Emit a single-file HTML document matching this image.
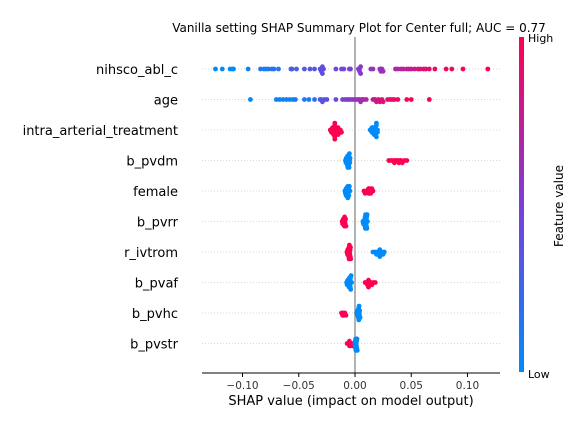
<!DOCTYPE html>
<html><head><meta charset="utf-8"><style>
body{margin:0;background:#fff;}
svg{display:block;font-family:"DejaVu Sans","Liberation Sans",sans-serif;}
</style></head><body>
<svg id="chart" width="587" height="429">
<defs><linearGradient id="cb" x1="0" y1="1" x2="0" y2="0"><stop offset="0" stop-color="#008bfb"/><stop offset="0.5" stop-color="#7c3ed8"/><stop offset="1" stop-color="#ff0051"/></linearGradient></defs>
<text x="359" y="32" font-size="12" text-anchor="middle">Vanilla setting SHAP Summary Plot for Center full; AUC = 0.77</text>
<g id="grid"></g>
<line x1="355" y1="37" x2="355" y2="373" stroke="#999" stroke-width="1.5"/>
<g id="dots"></g>
<g id="labels"></g>
<line x1="202" y1="373" x2="500" y2="373" stroke="#000" stroke-width="1"/>
<g id="ticks"></g>
<text x="351" y="405" font-size="13" text-anchor="middle">SHAP value (impact on model output)</text>
<rect x="519" y="37" width="5" height="335" fill="url(#cb)"/>
<text x="528" y="42" font-size="11">High</text>
<text x="528" y="378" font-size="11">Low</text>
<text x="563" y="206" font-size="12" text-anchor="middle" transform="rotate(-90 563 206)">Feature value</text>
</svg>
<script>
const features = ["nihsco_abl_c","age","intra_arterial_treatment","b_pvdm","female","b_pvrr","r_ivtrom","b_pvaf","b_pvhc","b_pvstr"];
const tickValues = [-0.10,-0.05,0.00,0.05,0.10];
const tickLabels = ["\u22120.10","\u22120.05","0.00","0.05","0.10"];
const nihShap = [-0.124,-0.118,-0.111,-0.109,-0.108,-0.095,-0.084,-0.081,-0.079,-0.077,-0.074,-0.072,-0.068,-0.057,-0.056,-0.052,-0.045,-0.040,-0.036,-0.031,-0.030,-0.030,-0.029,-0.029,-0.028,-0.017,-0.012,-0.010,-0.005,-0.004,0.003,0.004,0.004,0.005,0.005,0.014,0.016,0.022,0.023,0.023,0.024,0.025,0.036,0.038,0.041,0.043,0.046,0.048,0.050,0.053,0.056,0.058,0.061,0.063,0.066,0.071,0.081,0.086,0.096,0.118];
const nihFv = [0,0,0,0,0,0.05,0.1,0.1,0.1,0.1,0.15,0.15,0.15,0.3,0.3,0.3,0.35,0.35,0.35,0.4,0.4,0.4,0.4,0.4,0.4,0.45,0.45,0.45,0.5,0.5,0.55,0.55,0.55,0.55,0.55,0.6,0.6,0.62,0.62,0.62,0.62,0.62,0.7,0.7,0.72,0.72,0.75,0.75,0.78,0.8,0.82,0.85,0.88,0.88,0.9,0.92,0.95,0.95,1,1];
const ageShap = [-0.093,-0.070,-0.067,-0.064,-0.061,-0.058,-0.055,-0.053,-0.045,-0.041,-0.036,-0.031,-0.030,-0.029,-0.027,-0.025,-0.017,-0.011,-0.009,-0.007,-0.006,-0.004,-0.002,0.000,0.001,0.003,0.004,0.005,0.006,0.007,0.008,0.010,0.016,0.017,0.018,0.019,0.021,0.022,0.024,0.025,0.029,0.031,0.033,0.035,0.038,0.046,0.050,0.066];
const ageFv = [0,0.05,0.05,0.05,0.08,0.08,0.1,0.1,0.1,0.12,0.15,0.35,0.35,0.38,0.38,0.4,0.42,0.5,0.5,0.52,0.55,0.55,0.58,0.6,0.6,0.6,0.62,0.62,0.65,0.65,0.68,0.7,0.75,0.78,0.8,0.8,0.82,0.85,0.85,0.88,0.88,0.9,0.9,0.92,0.95,0.95,1,1];
const iatRedShap = [-0.022,-0.021,-0.021,-0.020,-0.020,-0.020,-0.019,-0.019,-0.019,-0.019,-0.018,-0.018,-0.018,-0.018,-0.017,-0.017,-0.017,-0.016,-0.016,-0.015,-0.015,-0.014,-0.013,-0.012];
const iatBlueShap = [0.0135,0.014,0.015,0.015,0.016,0.016,0.016,0.017,0.017,0.017,0.017,0.018,0.018,0.018,0.018,0.019,0.019,0.019,0.020,0.020];
const pvdmBlueShap = [-0.0085,-0.008,-0.0078,-0.0075,-0.0072,-0.007,-0.0068,-0.0066,-0.0064,-0.0062,-0.006,-0.0058,-0.0056,-0.0054,-0.0052,-0.005,-0.0048,-0.0046,-0.0044];
const pvdmRedShap = [0.030,0.032,0.034,0.035,0.036,0.037,0.038,0.039,0.040,0.041,0.042,0.044,0.046];
const femBlueShap = [-0.009,-0.0085,-0.008,-0.0078,-0.0075,-0.0072,-0.007,-0.0068,-0.0066,-0.0064,-0.0062,-0.006,-0.0058,-0.0055,-0.005,-0.0045];
const femRedShap = [0.008,0.009,0.010,0.011,0.012,0.012,0.013,0.013,0.013,0.014,0.014,0.015,0.016];
const rrRedShap = [-0.0115,-0.011,-0.0105,-0.010,-0.0098,-0.0096,-0.0094,-0.0092,-0.009,-0.0087,-0.0084,-0.008];
const rrBlueShap = [0.007,0.0075,0.008,0.0083,0.0086,0.0088,0.009,0.0092,0.0094,0.0096,0.0098,0.010,0.0102,0.0104,0.0106,0.0108,0.011];
const ivtRedShap = [-0.0072,-0.0068,-0.0065,-0.0062,-0.006,-0.0058,-0.0056,-0.0054,-0.0052,-0.005,-0.0048,-0.0046,-0.0044,-0.0042,-0.004,-0.0038];
const ivtBlueShap = [0.016,0.018,0.019,0.020,0.021,0.021,0.022,0.022,0.023,0.024,0.025,0.026];
const pvafBlueShap = [-0.0075,-0.007,-0.0065,-0.006,-0.0058,-0.0055,-0.0052,-0.005,-0.0048,-0.0046,-0.0044,-0.0042,-0.004,-0.0038,-0.0035,-0.003];
const pvafRedShap = [0.009,0.010,0.011,0.011,0.012,0.012,0.013,0.013,0.014,0.015,0.016,0.018];
const hcRedShap = [-0.012,-0.011,-0.011,-0.010,-0.010,-0.009,-0.008];
const hcBlueShap = [0.0015,0.002,0.0022,0.0024,0.0026,0.0028,0.003,0.0032,0.0034,0.0036,0.0038,0.004,0.0042,0.0045];
const strRedShap = [-0.007,-0.006,-0.005,-0.005,-0.004,-0.004,-0.003,-0.002];
const strBlueShap = [-0.0002,0.0,0.0002,0.0004,0.0006,0.0008,0.001,0.0012,0.0014,0.0016,0.0018,0.002];

const X0=355, XS=1125, ROW0=69, ROWH=30.5;
const xs = v => X0 + v*XS;
const ys = i => ROW0 + i*ROWH;
function col(f){
  const a=[0,139,251], m=[124,62,216], b=[255,0,81];
  let c;
  if(f<0.5){const t=f/0.5;c=a.map((v,i)=>v+(m[i]-v)*t);} else {const t=(f-0.5)/0.5;c=m.map((v,i)=>v+(b[i]-v)*t);}
  return `rgb(${c.map(Math.round).join(',')})`;
}
const rows = [
  [[nihShap,nihFv]],
  [[ageShap,ageFv]],
  [[iatRedShap,1],[iatBlueShap,0]],
  [[pvdmBlueShap,0],[pvdmRedShap,1]],
  [[femBlueShap,0],[femRedShap,1]],
  [[rrRedShap,1],[rrBlueShap,0]],
  [[ivtRedShap,1],[ivtBlueShap,0]],
  [[pvafBlueShap,0],[pvafRedShap,1]],
  [[hcRedShap,1],[hcBlueShap,0]],
  [[strRedShap,1],[strBlueShap,0]]
];
const NS='http://www.w3.org/2000/svg';
const grid=document.getElementById('grid'), dots=document.getElementById('dots'), labels=document.getElementById('labels'), ticks=document.getElementById('ticks');
features.forEach((f,i)=>{
  const y=ys(i);
  const g=document.createElementNS(NS,'line');
  g.setAttribute('x1',202);g.setAttribute('x2',500);g.setAttribute('y1',y);g.setAttribute('y2',y);
  g.setAttribute('stroke','#ccc');g.setAttribute('stroke-width','0.8');g.setAttribute('stroke-dasharray','1 2');
  
  
  grid.appendChild(g);
  const t=document.createElementNS(NS,'text');
  t.setAttribute('x',178);t.setAttribute('y',y+5);t.setAttribute('text-anchor','end');t.setAttribute('font-size','13');
  t.textContent=f;
  
  
  labels.appendChild(t);
  const pts=[];
  rows[i].forEach(([vals,fv])=>vals.forEach((v,k)=>pts.push([v,Array.isArray(fv)?fv[k]:fv])));
  const bins={};
  pts.forEach(([v,fv])=>{
    const px=xs(v), b=Math.round(px/1.6);
    const n=bins[b]||0; bins[b]=n+1;
    const off=(n%2?1:-1)*Math.ceil(n/2)*2.3;
    const c=document.createElementNS(NS,'circle');
    c.setAttribute('cx',px.toFixed(1));c.setAttribute('cy',(y+off).toFixed(1));c.setAttribute('r',2.4);
    c.setAttribute('fill',col(fv));
    
    
    dots.appendChild(c);
  });
});
tickValues.forEach((v,i)=>{
  const x=xs(v);
  const l=document.createElementNS(NS,'line');
  l.setAttribute('x1',x);l.setAttribute('x2',x);l.setAttribute('y1',373);l.setAttribute('y2',377);l.setAttribute('stroke','#000');
  
  
  ticks.appendChild(l);
  const t=document.createElementNS(NS,'text');
  t.setAttribute('x',x);t.setAttribute('y',389);t.setAttribute('text-anchor','middle');t.setAttribute('font-size','10.5');t.setAttribute('fill','#333');
  t.textContent=tickLabels[i];
  
  
  ticks.appendChild(t);
});
</script>
</body></html>
